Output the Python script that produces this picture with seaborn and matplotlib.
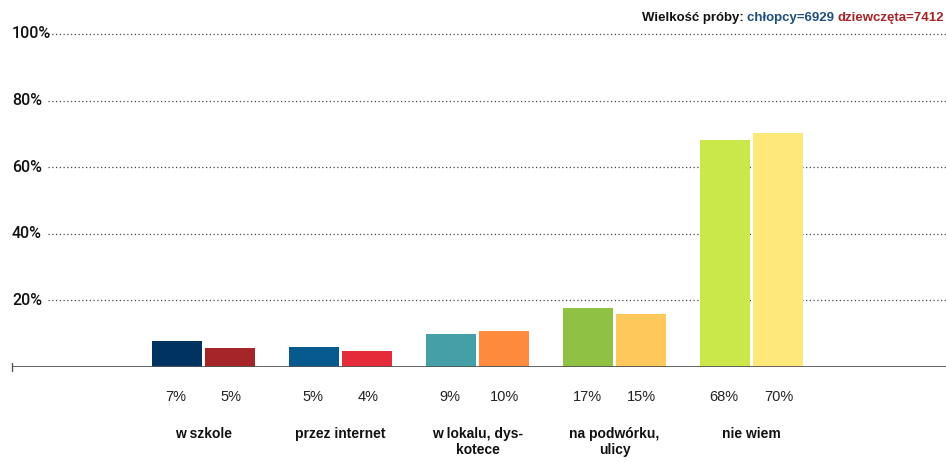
import pandas as pd
import numpy as np
import matplotlib
matplotlib.use('Agg')
import matplotlib.pyplot as plt
import seaborn as sns

# data
categories = ['w szkole', 'przez internet', 'w lokalu, dys-\nkotece', 'na podwórku,\nulicy', 'nie wiem']
boys = [7.8, 6.0, 9.9, 17.7, 68.2]
girls = [5.8, 4.9, 10.8, 15.9, 70.2]
boys_labels = ['7%', '5%', '9%', '17%', '68%']
girls_labels = ['5%', '4%', '10%', '15%', '70%']
boys_colors = ['#003362', '#065a8e', '#459fa7', '#8fc144', '#cbe84b']
girls_colors = ['#a52528', '#e52a3a', '#fd8a3d', '#fec95a', '#fee87a']
y_ticks = [20, 40, 60, 80, 100]

df = pd.DataFrame({'cat': categories * 2,
                   'value': boys + girls,
                   'group': ['chłopcy'] * 5 + ['dziewczęta'] * 5})

sns.set_style('white')
plt.rcParams['font.family'] = ['Liberation Sans', 'DejaVu Sans']

fig = plt.figure(figsize=(9.46, 4.62), dpi=100)
ax = fig.add_axes([12 / 946, 1 - 367 / 462, 934 / 946, 333 / 462])

sns.barplot(data=df, x='cat', y='value', hue='group', order=categories,
            width=0.78, gap=0.055, legend=False, ax=ax, saturation=1)

# recolour every bar individually
for cont, cols in zip(ax.containers, [boys_colors, girls_colors]):
    for bar, c in zip(cont, cols):
        bar.set_facecolor(c)
        bar.set_edgecolor('none')

x0, x1 = (12 - 203.5) / 137, (946 - 203.5) / 137
ax.set_xlim(x0, x1)
ax.set_ylim(0, 100)
sns.despine(ax=ax, left=True, bottom=True, top=True, right=True)
ax.set_xticks([])
ax.set_yticks([])
ax.set_xlabel('')
ax.set_ylabel('')

# dotted gridlines and y labels
grid_start = (48 - 203.5) / 137
for t in y_ticks:
    ax.plot([grid_start, x1], [t, t], color='#444444', lw=0.9,
            linestyle=(0, (1, 2)), zorder=0, clip_on=False)
    ax.text(0, t, f'{t}%', transform=ax.get_yaxis_transform(), ha='left', va='center',
            fontsize=11.5, family='Roboto', fontweight='medium', color='#111111')

# baseline
ax.axhline(0, color='#555555', lw=2, zorder=3)
ax.plot([x0 + 0.002, x0 + 0.002], [-1.2, 1.2], color='#555555', lw=1, clip_on=False)

# value labels and category labels below axis
trans = ax.get_xaxis_transform()
for i, cat in enumerate(categories):
    ax.annotate(boys_labels[i], xy=(i - 0.2, 0), xycoords=trans, xytext=(0, -21.6),
                textcoords='offset points', ha='center', va='center',
                fontsize=10.5, color='#222222')
    ax.annotate(girls_labels[i], xy=(i + 0.2, 0), xycoords=trans, xytext=(0, -21.6),
                textcoords='offset points', ha='center', va='center',
                fontsize=10.5, color='#222222')
    ax.annotate(cat, xy=(i, 0), xycoords=trans, xytext=(0, -43),
                textcoords='offset points', ha='center', va='top',
                fontsize=10, fontweight='bold', color='#111111', linespacing=1.25)

# sample size header
ypos = 1 - 18 / 462
t3 = fig.text(944 / 946, ypos, 'dziewczęta=7412', ha='right', va='center',
              fontsize=9.5, fontweight='bold', color='#a52528')
t2 = fig.text(0, ypos, 'chłopcy=6929 ', ha='right', va='center',
              fontsize=9.5, fontweight='bold', color='#1e4f7e')
t1 = fig.text(0, ypos, 'Wielkość próby: ', ha='right', va='center',
              fontsize=9.5, fontweight='bold', color='#111111')
fig.canvas.draw()
r = fig.canvas.get_renderer()
inv = fig.transFigure.inverted()
t2.set_x(inv.transform((t3.get_window_extent(r).x0, 0))[0])
fig.canvas.draw()
t1.set_x(inv.transform((t2.get_window_extent(r).x0, 0))[0])

plt.savefig('out.png', dpi=100)
